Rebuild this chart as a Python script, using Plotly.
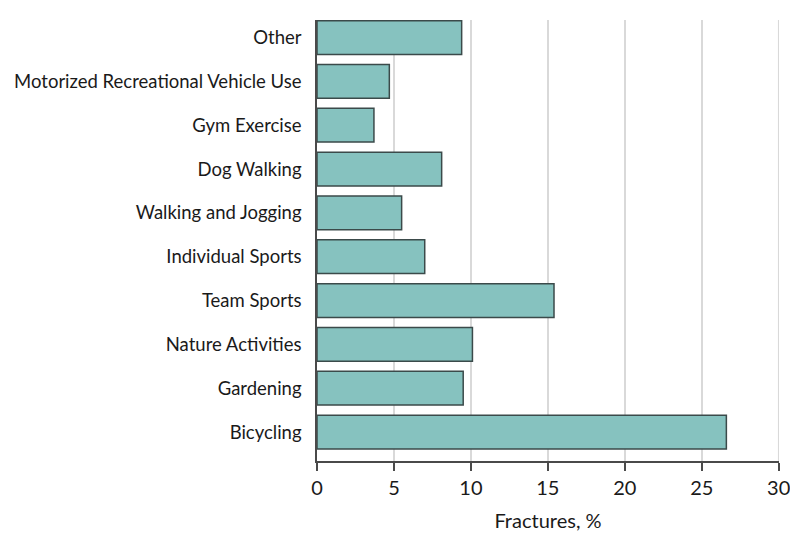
import plotly.graph_objects as go

# Activity categories, bottom to top as drawn
activities = [
    "Bicycling",
    "Gardening",
    "Nature Activities",
    "Team Sports",
    "Individual Sports",
    "Walking and Jogging",
    "Dog Walking",
    "Gym Exercise",
    "Motorized Recreational Vehicle Use",
    "Other",
]
fractures_pct = [26.6, 9.5, 10.1, 15.4, 7.0, 5.5, 8.1, 3.7, 4.7, 9.4]

x_ticks = [0, 5, 10, 15, 20, 25, 30]

FONT = "Lato"
TEXT = "#1a1a1a"

fig = go.Figure()

fig.add_trace(go.Bar(
    x=fractures_pct,
    y=activities,
    orientation="h",
    marker=dict(color="#86c2bf", line=dict(color="#3b4a4a", width=1.5)),
    width=0.77,
    showlegend=False,
))

# plotly drops the gridline sitting on the plot edge, draw it by hand
fig.add_vline(x=x_ticks[-1], line_color="#d9d9d9", line_width=1.5, layer="below")

# page body adds an 8px margin all round, so the figure is drawn smaller
# to keep the page from scrolling
fig.update_layout(
    width=782,
    height=530,
    plot_bgcolor="white",
    paper_bgcolor="white",
    margin=dict(l=309, r=11, t=12, b=77),
    font=dict(family=FONT, size=18, color=TEXT),
)

fig.update_xaxes(
    range=[0, 30.02],
    tickvals=x_ticks,
    automargin=False,
    ticklabeloverflow="allow",
    showgrid=True,
    gridcolor="#d9d9d9",
    gridwidth=1.5,
    zeroline=False,
    showline=True,
    linecolor="#4a4a4a",
    linewidth=1.5,
    ticks="outside",
    ticklen=8,
    tickwidth=1.5,
    tickcolor="#4a4a4a",
    tickfont=dict(family=FONT, size=20, color=TEXT),
    title=dict(text="Fractures, %", font=dict(family=FONT, size=20, color=TEXT), standoff=16),
)

fig.update_yaxes(
    range=[-0.66, 9.4],
    automargin=False,
    showgrid=False,
    showline=True,
    linecolor="#4a4a4a",
    linewidth=1.5,
    ticks="",
    ticklabelstandoff=10,
    tickfont=dict(family=FONT, size=18.5, color=TEXT),
)

fig.write_html("out.html")
